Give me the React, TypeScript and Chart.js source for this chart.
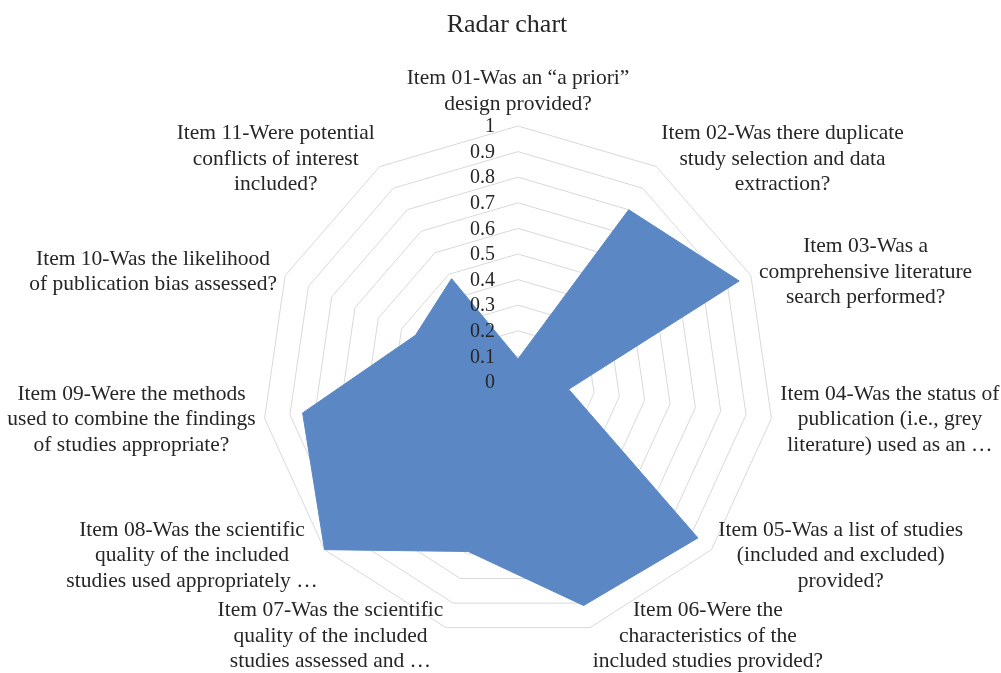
import React, { useEffect, useRef } from 'react';
import { Chart, registerables } from 'chart.js';

Chart.register(...registerables);

const TITLE = 'Radar chart';

const CATEGORIES: string[][] = [
  ['Item 01-Was an “a priori”', 'design provided?'],
  ['Item 02-Was there duplicate', 'study selection and data', 'extraction?'],
  ['Item 03-Was a', 'comprehensive literature', 'search performed?'],
  ['Item 04-Was the status of', 'publication (i.e., grey', 'literature) used as an …'],
  ['Item 05-Was a list of studies', '(included and excluded)', 'provided?'],
  ['Item 06-Were the', 'characteristics of the', 'included studies provided?'],
  ['Item 07-Was the scientific', 'quality of the included', 'studies assessed and …'],
  ['Item 08-Was the scientific', 'quality of the included', 'studies used appropriately …'],
  ['Item 09-Were the methods', 'used to combine the findings', 'of studies appropriate?'],
  ['Item 10-Was the likelihood', 'of publication bias assessed?'],
  ['Item 11-Were potential', 'conflicts of interest', 'included?'],
];

const VALUES: number[] = [0.09, 0.8, 0.95, 0.2, 0.93, 0.91, 0.69, 1.0, 0.85, 0.44, 0.48];

const TICK_LABELS: string[] = ['0', '0.1', '0.2', '0.3', '0.4', '0.5', '0.6', '0.7', '0.8', '0.9', '1'];

const FONT_FAMILY = '"Liberation Serif", "Times New Roman", serif';
const TEXT_COLOR = '#262626';
const FILL_COLOR = '#5B87C5';
const GRID_COLOR = '#D9D9D9';
const LABEL_SIZE = 21.5;
const LINE_H = 25.5;
const TICK_SIZE = 20;
const TITLE_SIZE = 26;
const LABEL_GAP = 9;

const textPlugin = {
  id: 'customText',
  afterDatasetsDraw(chart: any) {
    const scale = chart.scales.r;
    const ctx = chart.ctx as CanvasRenderingContext2D;
    ctx.save();
    ctx.fillStyle = TEXT_COLOR;

    // tick labels, right-aligned left of the vertical axis
    ctx.font = `${TICK_SIZE}px ${FONT_FAMILY}`;
    ctx.textAlign = 'right';
    ctx.textBaseline = 'middle';
    scale.ticks.forEach((t: any, i: number) => {
      const d = scale.getDistanceFromCenterForValue(t.value);
      ctx.fillText(TICK_LABELS[i] ?? String(t.label), scale.xCenter - 23, scale.yCenter - d + 1);
    });

    // point labels
    ctx.font = `${LABEL_SIZE}px ${FONT_FAMILY}`;
    ctx.textAlign = 'center';
    const labels = chart.data.labels as string[][];
    labels.forEach((lines, i) => {
      const p = scale.getPointPosition(i, scale.drawingArea + LABEL_GAP);
      const angle = scale.getIndexAngle(i);
      const s = Math.sin(angle);
      const c = Math.cos(angle);
      const w = Math.max(...lines.map((l) => ctx.measureText(l).width));
      const h = lines.length * LINE_H;
      let cx = p.x;
      let cy = p.y;
      if (Math.abs(s) < 0.05) {
        cy = c > 0 ? p.y - h / 2 : p.y + h / 2;
      } else {
        cx = s > 0 ? p.x + w / 2 : p.x - w / 2;
      }
      lines.forEach((l, k) => {
        ctx.fillText(l, cx, cy - h / 2 + LINE_H * (k + 0.5));
      });
    });

    // title
    ctx.font = `${TITLE_SIZE}px ${FONT_FAMILY}`;
    ctx.textAlign = 'center';
    ctx.fillText(TITLE, 507, 25);
    ctx.restore();
  },
};

export default function App() {
  const ref = useRef<HTMLCanvasElement | null>(null);

  useEffect(() => {
    if (!ref.current) return;
    const chart = new Chart(ref.current, {
      type: 'radar',
      data: {
        labels: CATEGORIES,
        datasets: [
          {
            label: 'Series 1',
            data: VALUES,
            backgroundColor: FILL_COLOR,
            borderColor: FILL_COLOR,
            borderWidth: 1,
            fill: true,
            pointRadius: 0,
            pointHoverRadius: 0,
          },
        ],
      },
      options: {
        responsive: false,
        animation: false,
        layout: { padding: { left: 262, right: 227, top: 126, bottom: 35 } },
        plugins: {
          legend: { display: false },
          title: { display: false },
          tooltip: { enabled: false },
        },
        scales: {
          r: {
            min: 0,
            max: 1,
            startAngle: 0,
            ticks: { stepSize: 0.1, display: false, showLabelBackdrop: false },
            grid: { color: GRID_COLOR, lineWidth: 1, circular: false },
            angleLines: { display: false },
            pointLabels: { display: false },
          },
        },
      },
      plugins: [textPlugin],
    });
    return () => chart.destroy();
  }, []);

  return (
    <div style={{ position: 'fixed', left: 0, top: 0, width: 1001, height: 673, background: '#fff' }}>
      <canvas ref={ref} width={1001} height={673} />
    </div>
  );
}
